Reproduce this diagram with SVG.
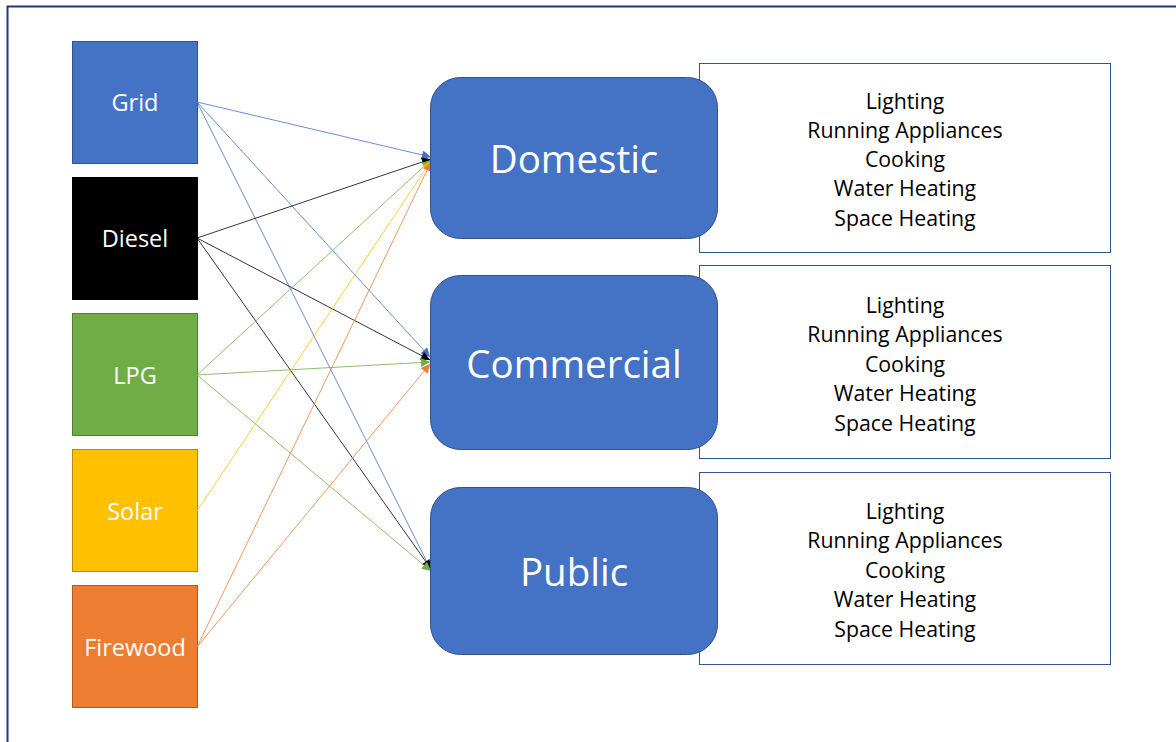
<svg xmlns="http://www.w3.org/2000/svg" width="1176" height="742" viewBox="0 0 1176 742">
  <defs>
    <style>
      .src { stroke-width: 1; }
      .src text, .lbl { font-family: "Open Sans", "Noto Sans", "Liberation Sans", sans-serif; fill: #ffffff; text-anchor: middle; dominant-baseline: central; }
      .src text { font-size: 23.5px; }
      .sector rect { fill: #4472C4; stroke: #2F528F; stroke-width: 1; }
      .sector text { font-size: 38.5px; }
      .uses rect { fill: #ffffff; stroke: #2F5597; stroke-width: 1; }
      .uses text { font-family: "Open Sans", "Noto Sans", "Liberation Sans", sans-serif; font-size: 21.3px; fill: #000000; text-anchor: middle; dominant-baseline: central; }
      .conn line { stroke-width: 0.8; fill: none; }
    </style>
    <marker id="ah-blue" viewBox="0 0 10 10" refX="10" refY="5" markerWidth="10" markerHeight="9" markerUnits="userSpaceOnUse" orient="auto"><path d="M0,0 L10,5 L0,10 z" fill="#4472C4"/></marker>
    <marker id="ah-black" viewBox="0 0 10 10" refX="10" refY="5" markerWidth="10" markerHeight="9" markerUnits="userSpaceOnUse" orient="auto"><path d="M0,0 L10,5 L0,10 z" fill="#000000"/></marker>
    <marker id="ah-green" viewBox="0 0 10 10" refX="10" refY="5" markerWidth="10" markerHeight="9" markerUnits="userSpaceOnUse" orient="auto"><path d="M0,0 L10,5 L0,10 z" fill="#70AD47"/></marker>
    <marker id="ah-yellow" viewBox="0 0 10 10" refX="10" refY="5" markerWidth="10" markerHeight="9" markerUnits="userSpaceOnUse" orient="auto"><path d="M0,0 L10,5 L0,10 z" fill="#FFC000"/></marker>
    <marker id="ah-orange" viewBox="0 0 10 10" refX="10" refY="5" markerWidth="10" markerHeight="9" markerUnits="userSpaceOnUse" orient="auto"><path d="M0,0 L10,5 L0,10 z" fill="#ED7D31"/></marker>
  </defs>

  <rect x="0" y="0" width="1176" height="742" fill="#ffffff"/>
  <!-- outer frame, running off the right and bottom edges -->
  <path d="M7.5,750 L7.5,6.5 L1190,6.5" fill="none" stroke="#1F3A7A" stroke-width="2"/>

  <!-- energy sources -->
  <g id="grid" class="src"><rect x="72.5" y="41.5" width="125" height="122" fill="#4472C4" stroke="#2F528F"/><text x="135" y="102">Grid</text></g>
  <g id="diesel" class="src"><rect x="72.5" y="177.5" width="125" height="122" fill="#000000" stroke="#000000"/><text x="135" y="238">Diesel</text></g>
  <g id="lpg" class="src"><rect x="72.5" y="313.5" width="125" height="122" fill="#70AD47" stroke="#507E32"/><text x="135" y="375">LPG</text></g>
  <g id="solar" class="src"><rect x="72.5" y="449.5" width="125" height="122" fill="#FFC000" stroke="#BC8C00"/><text x="135" y="511">Solar</text></g>
  <g id="firewood" class="src"><rect x="72.5" y="585.5" width="125" height="122" fill="#ED7D31" stroke="#AE5A21"/><text x="135" y="647">Firewood</text></g>

  <!-- connectors -->
  <g id="connectors" class="conn">
    <line x1="197" y1="102" x2="431" y2="157" stroke="#4472C4" marker-end="url(#ah-blue)"/>
    <line x1="197" y1="102" x2="430" y2="357" stroke="#4472C4" marker-end="url(#ah-blue)"/>
    <line x1="197" y1="102" x2="431" y2="570" stroke="#4472C4" marker-end="url(#ah-blue)"/>
    <line x1="197" y1="238" x2="431" y2="159" stroke="#000000" marker-end="url(#ah-black)"/>
    <line x1="197" y1="238" x2="430" y2="360" stroke="#000000" marker-end="url(#ah-black)"/>
    <line x1="197" y1="238" x2="431" y2="569" stroke="#000000" marker-end="url(#ah-black)"/>
    <line x1="197" y1="375" x2="431" y2="160" stroke="#70AD47" marker-end="url(#ah-green)"/>
    <line x1="197" y1="375" x2="430" y2="362" stroke="#70AD47" marker-end="url(#ah-green)"/>
    <line x1="197" y1="375" x2="431" y2="571" stroke="#70AD47" marker-end="url(#ah-green)"/>
    <line x1="197" y1="511" x2="431" y2="161" stroke="#FFC000" marker-end="url(#ah-yellow)"/>
    <line x1="197" y1="647" x2="431" y2="162" stroke="#ED7D31" marker-end="url(#ah-orange)"/>
    <line x1="197" y1="647" x2="430" y2="364" stroke="#ED7D31" marker-end="url(#ah-orange)"/>
  </g>

  <!-- end-use lists -->
  <g id="domestic-uses" class="uses">
    <rect x="699.5" y="63.5" width="411" height="189"/>
    <text x="905" y="100">Lighting</text><text x="905" y="129">Running Appliances</text><text x="905" y="158">Cooking</text><text x="905" y="187">Water Heating</text><text x="905" y="217">Space Heating</text>
  </g>
  <g id="commercial-uses" class="uses">
    <rect x="699.5" y="265.5" width="411" height="193"/>
    <text x="905" y="304">Lighting</text><text x="905" y="333">Running Appliances</text><text x="905" y="363">Cooking</text><text x="905" y="392">Water Heating</text><text x="905" y="422">Space Heating</text>
  </g>
  <g id="public-uses" class="uses">
    <rect x="699.5" y="472.5" width="411" height="192"/>
    <text x="905" y="510">Lighting</text><text x="905" y="539">Running Appliances</text><text x="905" y="569">Cooking</text><text x="905" y="598">Water Heating</text><text x="905" y="628">Space Heating</text>
  </g>

  <!-- demand sectors -->
  <g id="domestic" class="sector"><rect x="430.5" y="77.5" width="287" height="161" rx="30"/><text class="lbl" x="574" y="158">Domestic</text></g>
  <g id="commercial" class="sector"><rect x="430.5" y="275.5" width="287" height="174" rx="30"/><text class="lbl" x="574" y="363">Commercial</text></g>
  <g id="public" class="sector"><rect x="430.5" y="487.5" width="287" height="167" rx="30"/><text class="lbl" x="574" y="571">Public</text></g>
</svg>
